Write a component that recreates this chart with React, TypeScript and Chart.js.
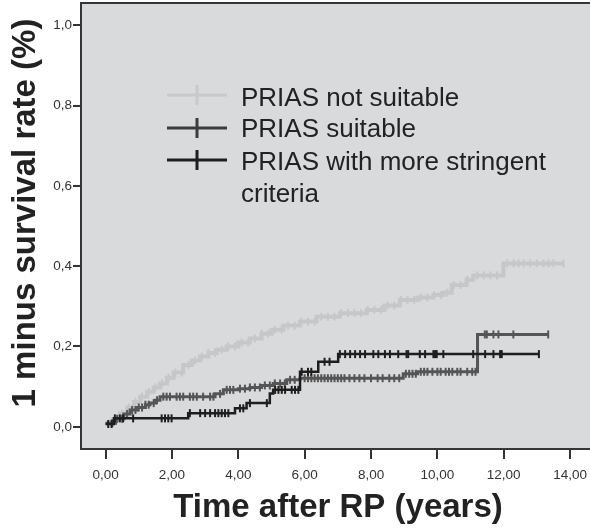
import React, { useEffect, useRef } from "react";
import { Chart, registerables } from "chart.js";

Chart.register(...registerables);

// ---------- data ----------
const xTicks = [0, 2, 4, 6, 8, 10, 12, 14];
const yTicks = [0, 0.2, 0.4, 0.6, 0.8, 1.0];

const xTitle = "Time after RP (years)";
const yTitle = "1 minus survival rate (%)";

const seriesLabels = [
  ["PRIAS not suitable"],
  ["PRIAS suitable"],
  ["PRIAS with more stringent", "criteria"],
];
const seriesColors = ["#c6c7c9", "#555555", "#1e1e1e"];
const legendColors = ["#c8c9cb", "#3c3c3c", "#1e1e1e"];

// PRIAS not suitable: step times and cumulative values
const notSuitableTimes = [0.0, 0.2, 0.43, 0.65, 0.85, 1.04, 1.25, 1.45, 1.64, 1.85, 2.05, 2.34, 2.6, 2.85, 3.1, 3.35, 3.65, 4.0, 4.35, 4.7, 5.0, 5.36, 5.86, 6.36, 7.06, 7.87, 8.4, 8.87, 9.4, 9.88, 10.18, 10.43, 10.88, 11.08, 11.99];
const notSuitableValues = [0.008, 0.018, 0.034, 0.048, 0.062, 0.075, 0.087, 0.098, 0.108, 0.122, 0.135, 0.154, 0.165, 0.175, 0.184, 0.192, 0.2, 0.21, 0.22, 0.232, 0.242, 0.252, 0.262, 0.274, 0.283, 0.291, 0.302, 0.316, 0.322, 0.328, 0.334, 0.353, 0.366, 0.377, 0.407];
const notSuitableEnd = 13.8;
const notSuitableCensored = [0.1, 0.3, 0.5, 0.7, 0.9, 1.1, 1.3, 1.5, 1.7, 1.9, 2.1, 2.3, 2.5, 2.7, 2.9, 3.1, 3.3, 3.5, 3.7, 3.9, 4.1, 4.3, 4.5, 4.7, 4.9, 5.1, 5.3, 5.5, 5.7, 5.9, 6.1, 6.3, 6.5, 6.7, 6.9, 7.1, 7.3, 7.5, 7.7, 7.9, 8.1, 8.3, 8.5, 8.7, 8.9, 9.1, 9.3, 9.5, 9.7, 9.9, 10.1, 10.3, 10.5, 10.7, 10.9, 11.2, 11.4, 11.6, 11.8, 12.1, 12.3, 12.45, 12.6, 12.8, 13.0, 13.2, 13.35, 13.5, 13.8];

// PRIAS suitable
const suitableTimes = [0.0, 0.3, 0.55, 0.74, 0.95, 1.2, 1.34, 1.5, 1.64, 3.3, 3.55, 4.0, 4.35, 4.7, 5.05, 5.46, 5.86, 8.97, 9.4, 11.21];
const suitableValues = [0.009, 0.02, 0.032, 0.042, 0.048, 0.055, 0.059, 0.066, 0.075, 0.082, 0.092, 0.095, 0.098, 0.103, 0.108, 0.117, 0.121, 0.132, 0.137, 0.23];
const suitableEnd = 13.34;
const suitableCensored = [0.2, 0.35, 0.5, 0.65, 0.8, 0.9, 1.0, 1.1, 1.2, 1.3, 1.45, 1.55, 1.74, 1.84, 1.94, 2.14, 2.24, 2.34, 2.54, 2.64, 2.75, 2.94, 3.15, 3.25, 3.45, 3.65, 3.75, 3.85, 4.05, 4.2, 4.35, 4.5, 4.65, 4.8, 4.95, 5.1, 5.26, 5.4, 5.56, 5.7, 5.86, 6.0, 6.1, 6.2, 6.3, 6.4, 6.5, 6.6, 6.7, 6.8, 6.9, 7.0, 7.1, 7.2, 7.35, 7.5, 7.65, 7.8, 8.0, 8.2, 8.35, 8.55, 8.7, 8.85, 9.05, 9.15, 9.25, 9.35, 9.5, 9.6, 9.7, 9.85, 10.0, 10.1, 10.25, 10.35, 10.45, 10.6, 10.7, 10.9, 11.05, 11.15, 11.43, 11.49, 11.69, 11.84, 12.29, 13.34];

// PRIAS with more stringent criteria
const stringentTimes = [0.0, 0.25, 2.49, 3.9, 4.25, 4.95, 5.05, 5.86, 6.41, 7.01];
const stringentValues = [0.007, 0.021, 0.034, 0.046, 0.059, 0.083, 0.092, 0.137, 0.162, 0.181];
const stringentEnd = 13.06;
const stringentCensored = [0.08, 0.18, 0.28, 0.43, 0.53, 0.83, 1.69, 1.79, 1.89, 1.99, 2.54, 2.85, 3.0, 3.15, 3.3, 3.4, 3.5, 3.6, 3.7, 4.05, 4.15, 4.35, 4.86, 5.11, 5.21, 5.31, 5.41, 5.61, 5.71, 5.81, 5.91, 6.1, 6.2, 6.6, 6.75, 7.06, 7.22, 7.37, 7.52, 7.67, 7.82, 8.07, 8.22, 8.42, 8.57, 8.82, 9.07, 9.12, 9.47, 9.63, 9.88, 9.93, 9.98, 10.18, 11.08, 11.44, 11.69, 11.89, 11.94, 13.06];

// ---------- helpers ----------
const FONT = '"Liberation Sans", Arial, Helvetica, sans-serif';

function stepPoints(times: number[], values: number[], end: number) {
  const pts = times.map((t, i) => ({ x: t, y: values[i] }));
  pts.push({ x: end, y: values[values.length - 1] });
  return pts;
}
function stepValueAt(times: number[], values: number[], t: number) {
  let v = values[0];
  for (let i = 0; i < times.length; i++) if (times[i] <= t) v = values[i];
  return v;
}
function censorPoints(times: number[], values: number[], cens: number[]) {
  return cens.map((t) => ({ x: t, y: stepValueAt(times, values, t) }));
}

const lineWidths = [4, 3, 2.5];
const censorRadius = [4, 4, 4];

export default function App() {
  const ref = useRef<HTMLCanvasElement | null>(null);

  useEffect(() => {
    if (!ref.current) return;
    const series = [
      { t: notSuitableTimes, v: notSuitableValues, e: notSuitableEnd, c: notSuitableCensored },
      { t: suitableTimes, v: suitableValues, e: suitableEnd, c: suitableCensored },
      { t: stringentTimes, v: stringentValues, e: stringentEnd, c: stringentCensored },
    ];
    const datasets: any[] = [];
    series.forEach((s, i) => {
      datasets.push({
        type: "line",
        label: seriesLabels[i].join(" "),
        data: stepPoints(s.t, s.v, s.e),
        stepped: "before",
        borderColor: seriesColors[i],
        borderWidth: lineWidths[i],
        pointRadius: 0,
        pointHoverRadius: 0,
        fill: false,
        order: 3 - i,
      });
      datasets.push({
        type: "scatter",
        label: seriesLabels[i].join(" ") + " censored",
        data: censorPoints(s.t, s.v, s.c),
        showLine: false,
        pointStyle: "line",
        rotation: 90,
        pointRadius: censorRadius[i],
        pointHoverRadius: censorRadius[i],
        pointBorderWidth: 2,
        borderColor: seriesColors[i],
        pointBorderColor: seriesColors[i],
        backgroundColor: seriesColors[i],
        order: 3 - i,
      });
    });

    const bgPlugin = {
      id: "bgFrame",
      beforeDatasetsDraw(chart: any) {
        const { ctx, chartArea: a } = chart;
        ctx.save();
        ctx.fillStyle = "#d9dadc";
        ctx.fillRect(a.left, a.top, a.right - a.left + 4, a.bottom - a.top);
        ctx.strokeStyle = "#363636";
        ctx.lineWidth = 2;
        ctx.beginPath();
        ctx.moveTo(a.right + 4, a.top);
        ctx.lineTo(a.left, a.top);
        ctx.lineTo(a.left, a.bottom);
        ctx.lineTo(a.right + 4, a.bottom);
        ctx.stroke();
        ctx.restore();
      },
      afterDraw(chart: any) {
        const { ctx } = chart;
        ctx.save();
        // axis titles
        ctx.fillStyle = "#222";
        ctx.font = `bold 33px ${FONT}`;
        ctx.textAlign = "center";
        ctx.textBaseline = "alphabetic";
        ctx.fillText(xTitle, 338, 517);
        ctx.save();
        ctx.translate(34.5, 213);
        ctx.rotate(-Math.PI / 2);
        ctx.fillText(yTitle, 0, 0);
        ctx.restore();

        // legend
        const rowLineY = [95, 128, 160];
        const rowBaselines = [[106], [137], [170, 202]];
        ctx.font = `26px ${FONT}`;
        ctx.textAlign = "left";
        for (let i = 0; i < seriesLabels.length; i++) {
          ctx.strokeStyle = legendColors[i];
          ctx.lineWidth = 3;
          ctx.beginPath();
          ctx.moveTo(167, rowLineY[i]);
          ctx.lineTo(227, rowLineY[i]);
          ctx.moveTo(197, rowLineY[i] - 10);
          ctx.lineTo(197, rowLineY[i] + 10);
          ctx.stroke();
          ctx.fillStyle = "#222";
          seriesLabels[i].forEach((txt, j) => ctx.fillText(txt, 241, rowBaselines[i][j]));
        }
        ctx.restore();
      },
    };

    const chart = new Chart(ref.current, {
      type: "line",
      data: { datasets },
      options: {
        animation: false,
        responsive: false,
        maintainAspectRatio: false,
        layout: { autoPadding: false, padding: { top: 3, right: 0, bottom: 0, left: 0 } },
        plugins: { legend: { display: false }, tooltip: { enabled: false } },
        events: [],
        scales: {
          x: {
            type: "linear",
            min: -0.741,
            max: 14.6,
            afterBuildTicks: (s: any) => {
              s.ticks = xTicks.map((v) => ({ value: v }));
            },
            afterFit: (s: any) => {
              s.height = 80;
              s.paddingLeft = 0;
              s.paddingRight = 0;
            },
            ticks: {
              autoSkip: false,
              maxRotation: 0,
              padding: 8,
              color: "#333",
              font: { family: FONT, size: 13.5 },
              callback: (v: any) => Number(v).toFixed(2).replace(".", ","),
            },
            grid: { display: true, drawOnChartArea: false, drawTicks: true, tickLength: 10, color: "#333", lineWidth: 2 },
            border: { display: false },
          },
          y: {
            type: "linear",
            min: -0.0553,
            max: 1.0555,
            afterBuildTicks: (s: any) => {
              s.ticks = yTicks.map((v) => ({ value: v }));
            },
            afterFit: (s: any) => {
              s.width = 81;
              s.paddingTop = 0;
              s.paddingBottom = 0;
            },
            ticks: {
              autoSkip: false,
              padding: 1,
              color: "#333",
              font: { family: FONT, size: 13.5 },
              callback: (v: any) => Number(v).toFixed(1).replace(".", ","),
            },
            grid: { display: true, drawOnChartArea: false, drawTicks: true, tickLength: 8, color: "#333", lineWidth: 2 },
            border: { display: false },
          },
        },
      },
      plugins: [bgPlugin],
    } as any);
    return () => chart.destroy();
  }, []);

  return (
    <div style={{ position: "fixed", left: 0, top: 0, width: 590, height: 529, background: "#fff" }}>
      <canvas ref={ref} width={590} height={529} style={{ width: 590, height: 529, display: "block" }} />
    </div>
  );
}
